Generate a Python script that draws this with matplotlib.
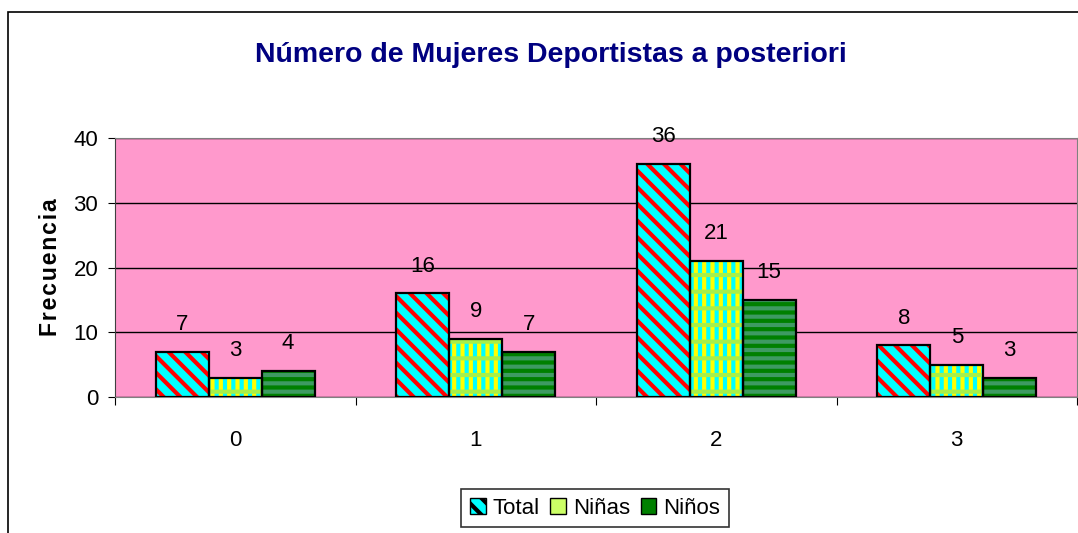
import numpy as np
import matplotlib.pyplot as plt
from matplotlib.patches import Rectangle

plt.rcParams['font.family'] = ['Liberation Sans', 'DejaVu Sans']
plt.rcParams['hatch.linewidth'] = 3.0

categorias = ['0', '1', '2', '3']
total = [7, 16, 36, 8]
ninas = [3, 9, 21, 5]
ninos = [4, 7, 15, 3]
series_names = ['Total', 'Niñas', 'Niños']

fig = plt.figure(figsize=(10.78, 5.33), dpi=100)
# outer chart frame (cut at right/bottom like the screenshot)
fig.patches.append(Rectangle((8 / 1078, -0.1), 1.2, (533 - 12) / 533 + 0.1,
                             transform=fig.transFigure, fill=False,
                             edgecolor='black', linewidth=1.2))

ax = fig.add_axes([115 / 1078, 136 / 533, 962 / 1078, 259 / 533])
ax.set_facecolor('#FF99CC')

x = np.arange(len(categorias))
w = 0.22


def hatched_bars(xpos, vals, face, layers):
    # face fill, hatch layers, then black outline
    ax.bar(xpos, vals, w, color=face, linewidth=0, zorder=2)
    for hatch, col in layers:
        ax.bar(xpos, vals, w, fill=False, hatch=hatch, edgecolor=col,
               linewidth=0, zorder=3)
    ax.bar(xpos, vals, w, fill=False, edgecolor='black', linewidth=1.6, zorder=4)


hatched_bars(x - w, total, '#00FFFF', [('\\\\', '#FF0000')])
hatched_bars(x, ninas, '#00FFFF', [('||', '#FFFF00'), ('-', '#A6F04A')])
hatched_bars(x + w, ninos, '#3E9A62', [('--', '#008000')])

for i in range(len(categorias)):
    for off, vals in zip([-w, 0, w], [total, ninas, ninos]):
        ax.annotate(str(vals[i]), (x[i] + off, vals[i]), xytext=(0, 12),
                    textcoords='offset points', ha='center', va='bottom',
                    fontsize=16)

ax.set_xlim(-0.5, 3.5)
ax.set_ylim(0, 40)
ax.set_yticks([0, 10, 20, 30, 40])
ax.yaxis.grid(True, color='black', linewidth=1)
ax.set_axisbelow(True)

ax.set_xticks([-0.5, 0.5, 1.5, 2.5, 3.5])
ax.set_xticklabels([])
ax.set_xticks(x, minor=True)
ax.set_xticklabels(categorias, minor=True)
ax.tick_params(axis='x', which='minor', length=0, pad=24, labelsize=16)
ax.tick_params(axis='x', which='major', length=6, color='black')
ax.tick_params(axis='y', length=5, labelsize=16, pad=7)

for s in ['top', 'right']:
    ax.spines[s].set_color('#808080')
ax.spines['left'].set_color('#404040')
ax.spines['bottom'].set_color('#808080')

ax.set_ylabel('\u200a'.join('Frecuencia'), fontsize=16.5, fontweight='bold',
              labelpad=8)

fig.text(551 / 1078, 1 - 55 / 533, 'Número de Mujeres Deportistas a posteriori',
         ha='center', va='center', fontsize=20.5, fontweight='bold', color='#000080')

# legend built from proxy patches
handles = [
    Rectangle((0, 0), 1, 1, facecolor='#00FFFF', hatch='\\\\', edgecolor='black'),
    Rectangle((0, 0), 1, 1, facecolor='#CCFF66', hatch='', edgecolor='black'),
    Rectangle((0, 0), 1, 1, facecolor='#008000', hatch='', edgecolor='black'),
]
leg = fig.legend(handles, series_names, loc='center', ncol=3,
                 bbox_to_anchor=(595 / 1078, 1 - 508 / 533), fontsize=16,
                 frameon=True, fancybox=False, handlelength=0.7,
                 handleheight=0.7, handletextpad=0.3, columnspacing=0.5,
                 borderpad=0.4)
leg.get_frame().set_edgecolor('black')
leg.get_frame().set_linewidth(1.2)

fig.savefig('out.png', dpi=100)
